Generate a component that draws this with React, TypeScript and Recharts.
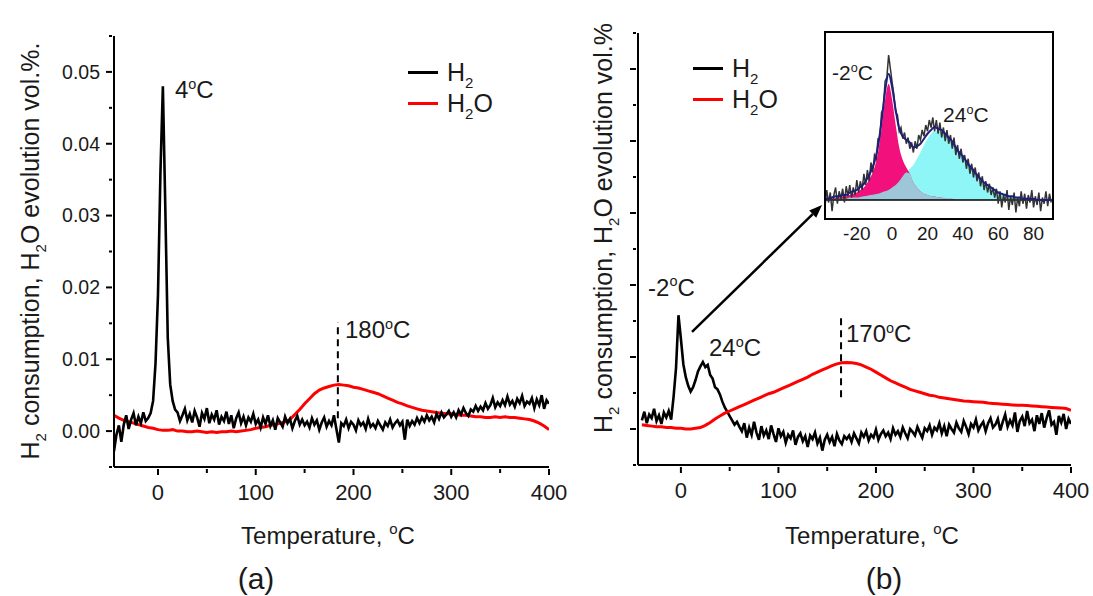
import React from 'react';
import {
  LineChart,
  ComposedChart,
  Line,
  Area,
  XAxis,
  YAxis,
  ReferenceLine,
  ReferenceDot,
  Legend,
} from 'recharts';

const FONT = 'Arial, "Liberation Sans", Helvetica, sans-serif';
const INK = '#1a1a1a';

// (a) H2 consumption, units of 1e-3 vol.%, every 2.5 °C from -45 °C
const A_H2_T0 = -45;
const aH2 = [
  -2.8, -0.5, 0.8, -1.5,
  0.9, 2.2, 0.3, 1.6, 2.5, 0.8, 2.0, 1.1, 2.6, 1.4,
  1.8, 2.5, 4.2, 9.5, 19, 36, 48, 31, 13, 6.5, 4.2, 3.0,
  2.6, 1.4, 2.2, 3.1, 1.5, 2.4, 1.2, 2.8, 1.9, 0.6, 2.5, 1.7, 3.2, 1.1, 2.3, 1.6, 2.9, 0.9, 2.0, 1.4,
  2.7, 1.0, 2.2, 0.4, 1.8, 2.6, 1.1, 2.0, 0.8, 1.9, 1.3, 2.4, 1.0,
  1.6, 0.5, 1.9, 1.0, 2.2, 0.7, 1.5, 0.2, 1.8, 1.2, 0.6, 2.0, 1.1, 1.7, 0.4, 1.4, 2.1, 0.9, 1.6, 0.8,
  1.3, 0.5, 1.8, 0.9, 1.5, 0.2, 1.2, 1.9, 0.6, 1.4, 0.8, 2.2, 0.3, -1.6, 1.1, 0.7, 1.6, 0.4, 1.3, 0.9,
  0.1, 1.5, 0.8, 1.2, 0.3, 1.7, 0.6, 1.0, 0.4, 1.4, 0.8, 0.2, 1.2, 0.7, 1.6, 0.5, 1.1, 1.5, 0.8, 1.3,
  -1.2, 1.6, 0.7, 1.4, 0.9, 1.8, 1.1, 1.9, 1.3, 2.2, 1.5, 2.0, 1.2, 2.4, 1.7, 2.6, 1.9, 2.3, 2.8, 2.0,
  2.6, 1.9, 2.9, 2.3, 3.2, 2.5, 2.1, 3.0, 2.7, 3.5, 2.8, 3.4, 2.9, 3.9, 3.1, 3.6, 4.6, 3.3, 4.0, 3.5,
  4.3, 3.6, 4.8, 3.7, 4.2, 3.4, 4.5, 3.9, 4.9, 3.5, 4.1, 3.8, 4.6, 3.2, 4.4, 3.6, 5.0, 3.1, 4.3, 3.8,
];

// (a) H2O evolution, every 5 °C from -45 °C
const A_H2O_T0 = -45;
const aH2O = [
  2.2, 1.8, 1.5, 1.3, 1.1, 0.9, 0.7, 0.5, 0.4,
  0.2, 0.1, 0.1, 0.2, 0.0, 0.0, -0.1, -0.1, 0.0, -0.1, -0.2, -0.1, -0.2, -0.1, -0.1, 0.0, -0.1, 0.0, 0.1, 0.2,
  0.4, 0.5, 0.6, 0.8, 0.9, 1.1, 1.3, 1.6, 2.3, 3.0, 3.8, 4.5, 5.2, 5.7, 6.0, 6.2, 6.4, 6.5, 6.4, 6.3,
  6.1, 6.0, 5.8, 5.6, 5.4, 5.2, 4.9, 4.6, 4.3, 4.0, 3.8, 3.5, 3.3, 3.1, 2.9, 2.8, 2.7, 2.6, 2.5, 2.4,
  2.4, 2.3, 2.2, 2.2, 2.1, 2.0, 2.0, 1.9, 1.9, 2.0, 1.9, 2.0, 1.9, 1.9, 1.8, 1.7, 1.6, 1.4, 1.1, 0.7,
  0.2,
];

// (b) H2 consumption, every 2.5 °C from -40 °C
const B_H2_T0 = -40;
const bH2 = [
  1.2, 2.4, 0.8, 2.0, 1.5, 2.8, 1.1, 1.9, 0.7, 2.3, 1.6, 2.5, 1.3,
  4.5, 8.5, 15.8, 12.5, 9.0, 7.2, 6.0, 5.2, 5.8, 6.8, 8.0, 8.7, 9.3, 8.6, 8.9, 7.5, 7.0, 5.8, 5.5, 4.8,
  3.8, 3.0, 2.4, 1.8, 1.2, 0.6, 1.0, 0.3,
  -0.3, 0.8, -1.2, 0.2, -0.8, 1.0, -0.5, -1.5, 0.4, -0.9, -0.2, -1.4, 0.5, -0.7, -1.8, 0.1,
  -1.0, -0.4, -1.9, -0.8, -1.3, -0.2, -2.2, -1.1, -0.6, -1.7, -1.0, -2.5, -0.9, -1.4, -0.5, -2.0,
  -1.2, -3.0, -1.5, -0.8, -1.8, -1.1, -2.4, -0.7, -1.6, -2.1, -1.0, -1.4,
  -0.9, -1.8, -0.6, -1.3, -2.0, -0.5, -1.1, -0.3, -1.6, -0.8, -1.2, -0.1, -1.5, -0.7, -0.2, -1.0,
  -0.5, -1.4, 0.1, -0.8, -0.3, -1.1, 0.2, -0.6, -1.3, 0.0, -0.4, -0.9, 0.3, -0.5, -1.2, 0.1,
  -0.3, 0.5, -0.8, 0.2, -0.2, 0.8, -0.6, 0.4, -1.0, 0.6, 0.0, -0.5, 0.9, 0.1, -0.4, 1.1,
  0.3, -0.7, 0.7, 0.2, 1.3, -0.2, 0.5, 1.0, -0.3, 0.8, 1.5, 0.2,
  0.6, 1.4, -0.2, 1.0, 2.0, 0.3, 1.2, 0.5, 2.3, -0.4, 1.1, 1.7, 0.4, 2.5, 0.8, 1.3,
  -0.3, 1.9, 0.7, 2.2, 0.2, 1.5, 2.6, 0.6, 1.0, -0.8, 1.8, 0.9, 2.1, 0.0, 1.4, 0.7,
];

// (b) H2O evolution, every 5 °C from -40 °C
const B_H2O_T0 = -40;
const bH2O = [
  0.6, 0.5, 0.4, 0.3, 0.3, 0.2, 0.2, 0.1,
  0.1, 0.0, 0.0, 0.1, 0.2, 0.5, 0.9, 1.4, 1.8, 2.2, 2.5, 2.8, 3.1, 3.4, 3.7, 4.0, 4.3, 4.6, 4.9, 5.1,
  5.4, 5.7, 6.0, 6.3, 6.6, 6.9, 7.2, 7.6, 7.9, 8.2, 8.5, 8.8, 9.05, 9.2, 9.25, 9.2, 9.1, 8.9, 8.6, 8.3,
  7.9, 7.5, 7.1, 6.7, 6.4, 6.1, 5.8, 5.5, 5.3, 5.1, 4.9, 4.7, 4.6, 4.4, 4.3, 4.2, 4.1, 4.0, 3.9, 3.85,
  3.8, 3.75, 3.7, 3.6, 3.55, 3.5, 3.45, 3.4, 3.35, 3.3, 3.3, 3.25, 3.2, 3.15, 3.1, 3.05, 3.0, 2.95, 2.9, 2.85,
  2.6,
];

// inset of (b): measured signal, every 1 °C from -38 °C (arb. units)
const INSET_T0 = -38;
const insetRaw = [
  -0.05, 0.08, -0.02, 0.06, -0.09, 0.04, 0.10, -0.03, 0.07, 0.01,
  0.09, -0.02, 0.11, 0.03, 0.12, 0.02, 0.10, 0.04, 0.16, 0.06,
  0.15, 0.08, 0.21, 0.12, 0.24, 0.15, 0.30, 0.22, 0.36, 0.33,
  0.49, 0.50, 0.70, 0.73, 0.95, 0.98, 1.16, 1.05, 0.94, 0.84,
  0.70, 0.68, 0.55, 0.58, 0.49, 0.54, 0.45, 0.50, 0.41, 0.46,
  0.38, 0.47, 0.41, 0.52, 0.48, 0.56, 0.51, 0.60, 0.55, 0.64,
  0.58, 0.66, 0.55, 0.64, 0.53, 0.62, 0.50, 0.58, 0.47, 0.56,
  0.45, 0.52, 0.41, 0.50, 0.36, 0.44, 0.33, 0.41, 0.30, 0.36,
  0.25, 0.33, 0.21, 0.29, 0.18, 0.26, 0.15, 0.22, 0.11, 0.19,
  0.08, 0.15, 0.06, 0.13, 0.04, 0.10, 0.02, 0.09, -0.03, 0.07,
  -0.06, 0.04, -0.02, 0.08, -0.08, 0.03, -0.04, 0.06, -0.10, 0.02,
  -0.05, 0.07, -0.03, 0.05, -0.07, 0.04, -0.02, 0.08, -0.06, 0.03,
  -0.04, 0.06, -0.09, 0.02, -0.03, 0.07, -0.05, 0.05, -0.02,
];

// inset fitted components, every 2 °C from -38 °C
const insetPeak1 = [
  0.01, 0.01, 0.01, 0.02, 0.02, 0.03, 0.03, 0.04, 0.05, 0.06, 0.08, 0.10, 0.14, 0.19, 0.26, 0.38, 0.57, 0.80, 0.93,
  0.80, 0.60, 0.42, 0.32, 0.26, 0.21, 0.14, 0.10, 0.07, 0.05, 0.04, 0.03, 0.03, 0.02, 0.02, 0.01, 0.01, 0.01,
  0, 0, 0, 0, 0, 0, 0, 0, 0, 0, 0, 0, 0, 0, 0, 0, 0, 0, 0, 0, 0, 0, 0, 0, 0, 0, 0, 0,
];
const insetPeak2 = [
  0.0, 0.0, 0.01, 0.01, 0.01, 0.01, 0.01, 0.02, 0.02, 0.02, 0.025, 0.03, 0.035, 0.04, 0.045, 0.05, 0.06, 0.07, 0.08,
  0.10, 0.12, 0.15, 0.19, 0.22, 0.25, 0.28, 0.33, 0.38, 0.44, 0.49, 0.53, 0.555,
  0.55, 0.54, 0.52, 0.49, 0.46, 0.42, 0.38, 0.35, 0.31, 0.27, 0.24, 0.20, 0.17, 0.14, 0.12, 0.10, 0.08, 0.06,
  0.05, 0.04, 0.03, 0.03, 0.02, 0.02, 0.01, 0.01, 0.01, 0.01, 0.0, 0.0, 0.0, 0.0, 0.0,
];

const xTicks = [0, 50, 100, 150, 200, 250, 300, 350, 400];
const yTicks = [-5, 0, 5, 10, 15, 20, 25, 30, 35, 40, 45, 50, 55];
const insetTicks = [-20, 0, 20, 40, 60, 80];

const toPoints = (t0: number, step: number, vals: number[]) => vals.map((v, i) => ({ t: t0 + i * step, v }));

const aH2Pts = toPoints(A_H2_T0, 2.5, aH2);
const aH2OPts = toPoints(A_H2O_T0, 5, aH2O);
const bH2Pts = toPoints(B_H2_T0, 2.5, bH2);
const bH2OPts = toPoints(B_H2O_T0, 5, bH2O);
const insetRawPts = toPoints(INSET_T0, 1, insetRaw);
const insetRows = insetPeak1.map((m, i) => {
  const c = insetPeak2[i];
  return { t: INSET_T0 + i * 2, m, c, o: Math.min(m, c), fit: m + c };
});

const AXIS = { stroke: '#000', strokeWidth: 2 };

const XTick = (props: any) => {
  const { x, y, payload } = props;
  const major = payload.value % 100 === 0;
  return (
    <g>
      <line x1={x} x2={x} y1={y} y2={y + (major ? 6 : 4)} stroke="#000" strokeWidth={2} />
      {major && (
        <text x={x} y={y + 23} dy="0.35em" textAnchor="middle" fontSize={22} fontFamily={FONT} fill={INK}>
          {payload.value}
        </text>
      )}
    </g>
  );
};

const YTick = (props: any) => {
  const { x, y, payload, labels } = props;
  const major = payload.value % 10 === 0;
  return (
    <g>
      <line x1={x} x2={x - (major ? 6 : 3)} y1={y} y2={y} stroke="#000" strokeWidth={2} />
      {labels && major && (
        <text x={x - 12} y={y} dy="0.35em" textAnchor="end" fontSize={19.5} fontFamily={FONT} fill={INK}>
          {(payload.value / 1000).toFixed(2)}
        </text>
      )}
    </g>
  );
};

const YTitle = ({ cx, cy, tail }: { cx: number; cy: number; tail: string }) => (
  <text
    transform={`translate(${cx},${cy}) rotate(-90)`}
    textAnchor="middle"
    dy="0.35em"
    fontSize={25}
    fontFamily={FONT}
    fill={INK}
  >
    H<tspan fontSize={15} dy={7}>2</tspan><tspan dy={-7}> consumption, H</tspan>
    <tspan fontSize={15} dy={7}>2</tspan><tspan dy={-7}>{`O evolution vol.%${tail}`}</tspan>
  </text>
);

const XTitle = ({ cx, cap, capX }: { cx: number; cap: string; capX: number }) => (
  <g fontFamily={FONT} fill={INK}>
    <text x={cx} y={536} dy="0.35em" textAnchor="middle" fontSize={24}>
      Temperature, <tspan fontSize={15} dy={-10}>o</tspan><tspan dy={10}>C</tspan>
    </text>
    <text x={capX} y={578} dy="0.35em" textAnchor="middle" fontSize={30}>
      {cap}
    </text>
  </g>
);

const DegLabel = (props: any) => {
  const { viewBox, txt, size } = props;
  const x = viewBox.x + (viewBox.width || 0) / 2;
  const y = viewBox.y + (viewBox.height || 0) / 2;
  return (
    <text x={x} y={y} dy="0.35em" fontSize={size} fontFamily={FONT} fill={INK}>
      {txt}
      <tspan fontSize={size * 0.6} dy={-size * 0.38}>o</tspan>
      <tspan dy={size * 0.38}>C</tspan>
    </text>
  );
};

const Arrow = (p: any) => {
  const { x1, y1, x2, y2 } = p;
  const a = Math.atan2(y2 - y1, x2 - x1);
  const len = 13;
  const w = 5;
  const bx = x2 - len * Math.cos(a);
  const by = y2 - len * Math.sin(a);
  const pts = `${x2},${y2} ${bx - w * Math.sin(a)},${by + w * Math.cos(a)} ${bx + w * Math.sin(a)},${by - w * Math.cos(a)}`;
  return (
    <g>
      <line x1={x1} y1={y1} x2={bx} y2={by} stroke="#000" strokeWidth={2.5} />
      <polygon points={pts} fill="#000" />
    </g>
  );
};

const LegendBox = (props: any) => {
  const rows = [...(props.payload || [])].sort((p: any, q: any) => String(p.value).length - String(q.value).length);
  return (
    <div style={{ fontFamily: FONT, fontSize: 25, color: INK, lineHeight: 1 }}>
      {rows.map((r: any) => (
        <div key={r.value} style={{ display: 'flex', alignItems: 'center', height: 31 }}>
          <span style={{ display: 'inline-block', width: 30, height: 3, background: r.color, marginRight: 9 }} />
          <span>
            H<span style={{ fontSize: 15, position: 'relative', top: 7 }}>2</span>
            {r.value === 'H2O' ? 'O' : ''}
          </span>
        </div>
      ))}
    </div>
  );
};

const dotLabel = (txt: string, size: number) => (p: any) => <DegLabel {...p} txt={txt} size={size} />;

export default function App() {
  return (
    <div style={{ position: 'absolute', left: 0, top: 0, width: 1093, height: 596, background: '#fff' }}>
      {/* panel (a) */}
      <div style={{ position: 'absolute', left: 0, top: 0 }}>
        <LineChart width={580} height={596} margin={{ top: 36, right: 31, bottom: 0, left: 0 }}>
          <XAxis
            dataKey="t"
            type="number"
            domain={[-45, 400]}
            ticks={xTicks}
            interval={0}
            allowDataOverflow
            height={129}
            tickSize={0}
            tickLine={false}
            tick={XTick}
            axisLine={AXIS}
            label={{ content: () => <XTitle cx={328} cap="(a)" capX={256} /> }}
          />
          <YAxis
            type="number"
            domain={[-5, 55]}
            ticks={yTicks}
            interval={0}
            allowDataOverflow
            width={114}
            tickSize={0}
            tickLine={false}
            tick={(p: any) => <YTick {...p} labels />}
            axisLine={AXIS}
            label={{ content: () => <YTitle cx={30} cy={251} tail="." /> }}
          />
          <Line data={aH2OPts} dataKey="v" name="H2O" stroke="#ff0000" strokeWidth={3} dot={false} isAnimationActive={false} />
          <Line data={aH2Pts} dataKey="v" name="H2" stroke="#000" strokeWidth={2.6} dot={false} isAnimationActive={false} />
          <ReferenceLine segment={[{ x: 184, y: 1.8 }, { x: 184, y: 15.2 }]} stroke="#000" strokeWidth={2} strokeDasharray="7 5" />
          <ReferenceDot x={17.4} y={47.5} r={1} fill="none" stroke="none" label={dotLabel('4', 24)} />
          <ReferenceDot x={191.3} y={14.1} r={1} fill="none" stroke="none" label={dotLabel('180', 24)} />
          <Legend
            layout="vertical"
            align="center"
            verticalAlign="middle"
            content={LegendBox}
            wrapperStyle={{ left: 408, top: 57, width: 120 }}
          />
        </LineChart>
      </div>

      {/* panel (b) */}
      <div style={{ position: 'absolute', left: 560, top: 0 }}>
        <LineChart width={533} height={596} margin={{ top: 33, right: 22, bottom: 0, left: 0 }}>
          <XAxis
            dataKey="t"
            type="number"
            domain={[-44, 400]}
            ticks={xTicks}
            interval={0}
            allowDataOverflow
            height={131}
            tickSize={0}
            tickLine={false}
            tick={XTick}
            axisLine={AXIS}
            label={{ content: () => <XTitle cx={312} cap="(b)" capX={324} /> }}
          />
          <YAxis
            type="number"
            domain={[-5, 55]}
            ticks={yTicks}
            interval={0}
            allowDataOverflow
            width={78}
            tickSize={0}
            tickLine={false}
            tick={(p: any) => <YTick {...p} />}
            axisLine={AXIS}
            label={{ content: () => <YTitle cx={43} cy={228} tail="" /> }}
          />
          <Line data={bH2Pts} dataKey="v" name="H2" stroke="#000" strokeWidth={2.6} dot={false} isAnimationActive={false} />
          <Line data={bH2OPts} dataKey="v" name="H2O" stroke="#ff0000" strokeWidth={3} dot={false} isAnimationActive={false} />
          <ReferenceLine segment={[{ x: 164.2, y: 4.4 }, { x: 164.2, y: 15.8 }]} stroke="#000" strokeWidth={2} strokeDasharray="7 5" />
          <ReferenceLine segment={[{ x: 11.4, y: 13.5 }, { x: 144.7, y: 31.1 }]} shape={Arrow} />
          <ReferenceDot x={-33.7} y={19.7} r={1} fill="none" stroke="none" label={dotLabel('-2', 24)} />
          <ReferenceDot x={28.8} y={11.25} r={1} fill="none" stroke="none" label={dotLabel('24', 24)} />
          <ReferenceDot x={169.3} y={13.3} r={1} fill="none" stroke="none" label={dotLabel('170', 24)} />
          <Legend
            layout="vertical"
            align="center"
            verticalAlign="middle"
            content={LegendBox}
            wrapperStyle={{ left: 133, top: 53, width: 120 }}
          />
        </LineChart>
      </div>

      {/* inset of (b) */}
      <div style={{ position: 'absolute', left: 825, top: 32 }}>
        <ComposedChart width={228} height={217} data={insetRows} margin={{ top: 0, right: 0, bottom: 0, left: 0 }}>
          <XAxis
            dataKey="t"
            type="number"
            domain={[-38, 91]}
            ticks={insetTicks}
            interval={0}
            allowDataOverflow
            height={30}
            axisLine={false}
            tickLine={false}
            tickSize={0}
            tickMargin={8}
            tick={{ fontSize: 19, fill: INK, fontFamily: FONT }}
          />
          <YAxis hide type="number" domain={[-0.152, 1.344]} allowDataOverflow />
          <Area dataKey="c" type="monotone" fill="#8ef6f6" fillOpacity={1} stroke="none" baseValue={0} isAnimationActive={false} />
          <Area dataKey="m" type="monotone" fill="#f2117c" fillOpacity={1} stroke="none" baseValue={0} isAnimationActive={false} />
          <Area dataKey="o" type="monotone" fill="#9dc6d9" fillOpacity={1} stroke="none" baseValue={0} isAnimationActive={false} />
          <ReferenceLine y={0} stroke="#000" strokeWidth={1.5} />
          <Line data={insetRawPts} dataKey="v" stroke="#333" strokeWidth={1.5} dot={false} isAnimationActive={false} />
          <Line dataKey="fit" type="monotone" stroke="#1f1f7a" strokeWidth={2} dot={false} isAnimationActive={false} />
          <ReferenceDot x={-34} y={1.02} r={1} fill="none" stroke="none" label={dotLabel('-2', 21)} />
          <ReferenceDot x={28.8} y={0.68} r={1} fill="none" stroke="none" label={dotLabel('24', 21)} />
        </ComposedChart>
      </div>
      <div
        style={{
          position: 'absolute',
          left: 824,
          top: 31,
          width: 230,
          height: 189,
          border: '2px solid #000',
          boxSizing: 'border-box',
          pointerEvents: 'none',
        }}
      />
    </div>
  );
}
